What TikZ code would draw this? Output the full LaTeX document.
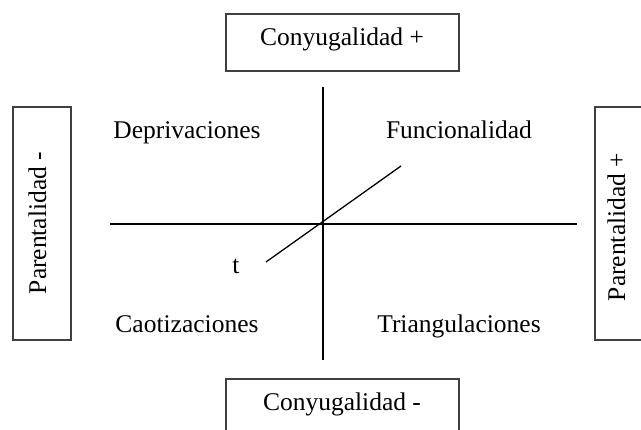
\documentclass[tikz,border=0pt]{standalone}
\usepackage{fontspec}
\setmainfont{Liberation Serif}
\begin{document}
\begin{tikzpicture}[x=1pt,y=-1pt,
  box/.style={draw=black!75,line width=1.4pt},
  axis/.style={draw=black,line width=1.3pt},
  lbl/.style={font=\fontsize{25.5}{30}\selectfont,inner sep=0pt,anchor=base},
]
\useasboundingbox (0,0) rectangle (641,430);
\begin{scope}
\clip (0,0) rectangle (641,430);
% boxes
\draw[box] (226,14) rectangle (459,71);
\draw[box] (13,107) rectangle (71,340);
\draw[box] (595,107) rectangle (660,340);
\draw[box] (226,379) rectangle (459,450);
\end{scope}
\node[lbl] (ctop) at (342,46) {Conyugalidad +};
\node[lbl] (cbot) at (342,411) {Conyugalidad -};
\node[lbl,rotate=90] (pl) at (46,223) {Parentalidad -};
\node[lbl,rotate=90] (pr) at (625,227) {Parentalidad +};
% axes
\coordinate (vt) at (323,87);
\coordinate (vb) at (323,360);
\coordinate (hl) at (110,224);
\coordinate (hr) at (577,224);
\coordinate (d1) at (266,262);
\coordinate (d2) at (401,166);
\draw[axis] (vt) -- (vb);
\draw[axis] (hl) -- (hr);
\draw[axis] (d1) -- (d2);
% quadrant labels
\node[lbl] (dep) at (187,139) {Deprivaciones};
\node[lbl] (fun) at (459,139) {Funcionalidad};
\node[lbl] (cao) at (187,333) {Caotizaciones};
\node[lbl] (tri) at (459,333) {Triangulaciones};
\node[lbl] (t) at (236,274) {t};
\end{tikzpicture}
\end{document}
